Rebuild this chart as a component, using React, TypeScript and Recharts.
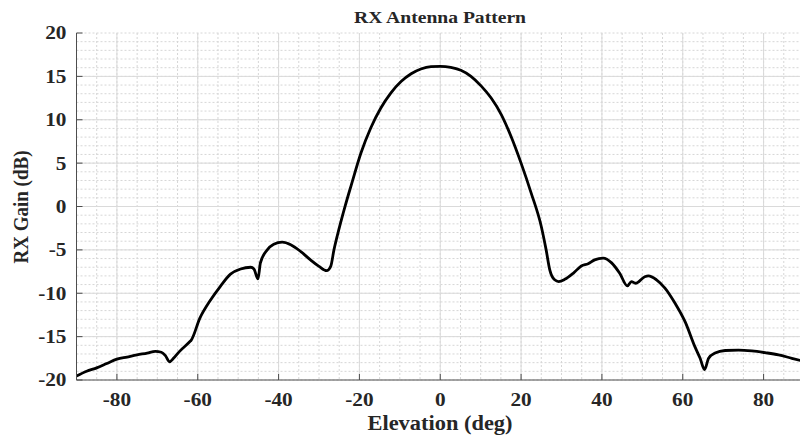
import React from 'react';
import { LineChart, Line, XAxis, YAxis, CartesianGrid } from 'recharts';

const elevationDeg = [
  -90, -87.5, -85, -82.5, -80, -77.5, -75, -72.5, -70.5, -69, -68, -67, -66, -64.5, -62, -61.6,
  -59.5, -57, -54.4, -51.9, -49.4, -46.9, -46.1, -45.1, -44.5, -42.8, -41.2, -39.1, -37, -34.5,
  -32.1, -30, -28.1, -27.1, -26.3, -25, -23.5, -22, -19.6, -17.2, -14.7, -12.2, -9.7, -7.2, -4.8,
  -2.3, 0, 2.6, 5.1, 7.6, 10.1, 12.6, 15.1, 17.5, 20, 22.5, 25, 26.2, 27.1, 28.3, 29.3, 30.8, 32.9,
  34.9, 36.6, 38.2, 40.3, 42.4, 44.4, 46.3, 47.3, 48.3, 50.6, 51.5, 53.5, 55.6, 58.1, 60.6, 63,
  64.3, 65.4, 66.4, 68, 70.5, 73.8, 77.1, 80.4, 83.7, 87, 90,
];

const gainDb = [
  -19.55, -19.0, -18.6, -18.1, -17.6, -17.35, -17.1, -16.9, -16.7, -16.8, -17.2, -17.9, -17.5, -16.7, -15.6, -15.4,
  -12.9, -10.9, -9.2, -7.8, -7.2, -7.0, -7.2, -8.35, -6.5, -5.0, -4.35, -4.1, -4.4, -5.2,
  -6.15, -6.9, -7.4, -6.9, -5.0, -2.5, 0.1, 2.5, 6.2, 9.05, 11.35, 13.1, 14.4, 15.3, 15.85,
  16.12, 16.15, 16.05, 15.7, 15.0, 13.9, 12.5, 10.6, 8.1, 5.0, 1.55, -2.3, -5.0, -7.3, -8.45, -8.65, -8.4, -7.7,
  -6.85, -6.6, -6.15, -5.95, -6.5, -7.7, -9.15, -8.65, -8.85, -8.1, -8.0, -8.45, -9.4, -11.15, -13.3, -16.15,
  -17.5, -18.8, -17.5, -16.9, -16.6, -16.55, -16.65, -16.85, -17.1, -17.5, -17.85,
];

const xTicks = [-80, -60, -40, -20, 0, 20, 40, 60, 80];
const yTicks = [-20, -15, -10, -5, 0, 5, 10, 15, 20];
const xMajorGrid = [-80, -60, -40, -20, 0, 20, 40, 60, 80];
const yMajorGrid = [-15, -10, -5, 0, 5, 10, 15];
const xMinorGrid = Array.from({ length: 37 }, (_, i) => -90 + i * 5);
const yMinorGrid = Array.from({ length: 41 }, (_, i) => -20 + i);

const titleText = 'RX Antenna Pattern';
const xLabelText = 'Elevation (deg)';
const yLabelText = 'RX Gain (dB)';

const data = elevationDeg.map((elev, i) => ({ elev, gain: gainDb[i] }));

const FONT = '"Liberation Serif", "Times New Roman", Times, serif';
const SX = 1.12;
const TEXT = '#262626';
const AXIS = '#4d4d4d';
const TICK = 6;

const BottomTick = (props: any) => {
  const { x, y, payload } = props;
  return (
    <g>
      <line x1={x} y1={y} x2={x} y2={y - TICK} stroke={AXIS} strokeWidth={1} />
      <g transform={`translate(${x},${y + 26}) scale(${SX},1)`}>
        <text x={0} y={0} textAnchor="middle" fontFamily={FONT} fontWeight="bold" fontSize={19} fill={TEXT}>
          {payload.value}
        </text>
      </g>
    </g>
  );
};

const TopTick = (props: any) => {
  const { x, y } = props;
  return <line x1={x} y1={y} x2={x} y2={y + TICK} stroke={AXIS} strokeWidth={1} />;
};

const LeftTick = (props: any) => {
  const { x, y, payload } = props;
  return (
    <g>
      <line x1={x} y1={y} x2={x + TICK} y2={y} stroke={AXIS} strokeWidth={1} />
      <g transform={`translate(${x - 10},${y}) scale(${SX},1)`}>
        <text x={0} y={0} dy="0.34em" textAnchor="end" fontFamily={FONT} fontWeight="bold" fontSize={19} fill={TEXT}>
          {payload.value}
        </text>
      </g>
    </g>
  );
};

const RightTick = (props: any) => {
  const { x, y } = props;
  return <line x1={x} y1={y} x2={x - TICK} y2={y} stroke={AXIS} strokeWidth={1} />;
};

const textBase: React.CSSProperties = {
  position: 'absolute',
  fontFamily: FONT,
  fontWeight: 'bold',
  color: TEXT,
  whiteSpace: 'nowrap',
  lineHeight: 1.2,
};

export default function App() {
  return (
    <div style={{ position: 'absolute', left: 8, top: 0, width: 792, height: 436, overflow: 'hidden', background: '#fff' }}>
      <LineChart width={812} height={436} data={data} margin={{ top: 33, right: 16, bottom: 0, left: 0 }}>
        <CartesianGrid
          verticalValues={xMinorGrid}
          horizontalValues={yMinorGrid}
          stroke="#d6d6d6"
          strokeDasharray="2 2"
          strokeWidth={1}
        />
        <CartesianGrid
          verticalValues={xMajorGrid}
          horizontalValues={yMajorGrid}
          stroke="#dadada"
          strokeWidth={1}
        />
        <XAxis
          dataKey="elev"
          type="number"
          domain={[-90, 90]}
          ticks={xTicks}
          allowDataOverflow
          height={56}
          tickSize={0}
          tickMargin={0}
          tickLine={false}
          axisLine={{ stroke: AXIS, strokeWidth: 1 }}
          tick={<BottomTick />}
          interval={0}
        />
        <XAxis
          xAxisId="top"
          orientation="top"
          dataKey="elev"
          type="number"
          domain={[-90, 90]}
          ticks={xTicks}
          allowDataOverflow
          height={0}
          tickSize={0}
          tickMargin={0}
          tickLine={false}
          axisLine={{ stroke: AXIS, strokeWidth: 1 }}
          tick={<TopTick />}
          interval={0}
        />
        <YAxis
          type="number"
          domain={[-20, 20]}
          ticks={yTicks}
          allowDataOverflow
          width={68.5}
          tickSize={0}
          tickMargin={0}
          tickLine={false}
          axisLine={{ stroke: AXIS, strokeWidth: 1 }}
          tick={<LeftTick />}
          interval={0}
        />
        <YAxis
          yAxisId="right"
          orientation="right"
          type="number"
          domain={[-20, 20]}
          ticks={yTicks}
          allowDataOverflow
          width={0}
          tickSize={0}
          tickMargin={0}
          tickLine={false}
          axisLine={{ stroke: AXIS, strokeWidth: 1 }}
          tick={<RightTick />}
          interval={0}
        />
        <Line
          type="monotone"
          dataKey="gain"
          stroke="#000"
          strokeWidth={2.8}
          dot={false}
          activeDot={false}
          isAnimationActive={false}
        />
      </LineChart>
      <div style={{ ...textBase, left: 432, top: 17, fontSize: 17.5, transform: `translate(-50%, -50%) scaleX(${SX})` }}>
        {titleText}
      </div>
      <div style={{ ...textBase, left: 432, top: 423, fontSize: 20, transform: `translate(-50%, -50%) scaleX(${SX})` }}>
        {xLabelText}
      </div>
      <div style={{ ...textBase, left: 14, top: 207, fontSize: 19, transform: `translate(-50%, -50%) rotate(-90deg) scale(1, ${SX})` }}>
        {yLabelText}
      </div>
    </div>
  );
}
